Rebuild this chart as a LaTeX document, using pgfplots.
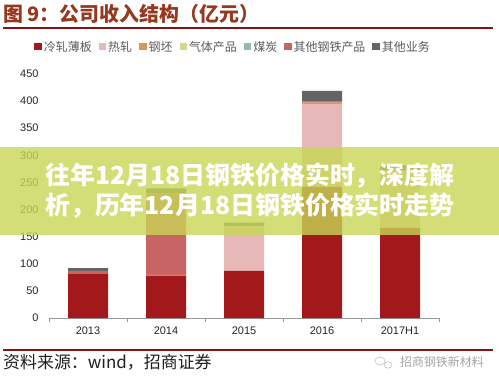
\documentclass[border=0pt]{standalone}
\usepackage{fontspec}
\setmainfont{Liberation Sans}
\newfontfamily\cjk{Noto Sans CJK SC}
\usepackage{pgfplots}
\pgfplotsset{compat=1.18}
\definecolor{c1}{RGB}{163,24,26}
\definecolor{c2}{RGB}{230,185,184}
\definecolor{c3}{RGB}{217,152,82}
\definecolor{c4}{RGB}{215,213,140}
\definecolor{c5}{RGB}{140,190,170}
\definecolor{c6}{RGB}{200,100,100}
\definecolor{c7}{RGB}{100,100,100}
\definecolor{titlec}{RGB}{150,55,30}
\definecolor{linec}{RGB}{135,20,20}
\definecolor{bannerc}{RGB}{200,214,85}
\definecolor{legtext}{RGB}{90,90,90}
\begin{document}
\begin{tikzpicture}[x=1bp,y=1bp]
\useasboundingbox (0,0) rectangle (499,383);
\fill[white] (0,0) rectangle (499,383);
\node[anchor=west, text=titlec, font=\cjk\bfseries\fontsize{20}{22}\selectfont, inner sep=0] at (3,369) {图 9：公司收入结构（亿元）};
\draw[line width=2bp, color=linec] (3,355) -- (493,355);
\begin{axis}[
  at={(49bp,65bp)}, anchor=south west,
  scale only axis, width=390bp, height=244bp,
  xmin=-0.5, xmax=4.5, ymin=0, ymax=450,
  ybar stacked, bar width=40bp,
  axis lines*=left,
  y axis line style={draw=none},
  x axis line style={draw=gray!80, line width=0.8bp},
  xtick={0,1,2,3,4},
  xticklabels={2013,2014,2015,2016,2017H1},
  minor xtick={-0.5,0.5,1.5,2.5,3.5,4.5},
  major tick length=0pt, minor tick length=4bp,
  tick align=outside,
  minor x tick style={draw=gray!80, line width=0.8bp},
  ytick={0,50,...,450},
  ytick style={draw=none},
  /pgf/number format/assume math mode=true,
  yticklabel style={font=\fontsize{11}{13}\selectfont, text=black!85, xshift=-7bp},
  xticklabel style={font=\fontsize{11}{13}\selectfont, text=black!85, yshift=-5bp},
  legend columns=7,
  legend style={at={(0.472,1.111)}, anchor=center, draw=none, fill=none,
    font=\cjk\fontsize{12}{14}\selectfont, text=legtext,
    /tikz/every even column/.append style={column sep=5bp}},
  legend image code/.code={\fill[#1] (0bp,-3.5bp) rectangle (7.5bp,3.5bp);},
]
\addplot[fill=c1, draw=none] coordinates {(0,81) (1,77.5) (2,87) (3,242) (4,166)};
\addplot[fill=c2, draw=none] coordinates {(0,0) (1,0) (2,83) (3,153) (4,106)};
\addplot[fill=c3, draw=none] coordinates {(0,0) (1,2) (2,0) (3,2) (4,0)};
\addplot[fill=c4, draw=none] coordinates {(0,0) (1,0) (2,0) (3,0) (4,0)};
\addplot[fill=c5, draw=none] coordinates {(0,0) (1,0) (2,0) (3,0) (4,0)};
\addplot[fill=c6, draw=none] coordinates {(0,6) (1,150.5) (2,0) (3,2) (4,0)};
\addplot[fill=c7, draw=none] coordinates {(0,5) (1,9) (2,6) (3,20) (4,10)};
\legend{冷轧薄板,热轧,钢坯,气体产品,煤炭,其他钢铁产品,其他业务}
\end{axis}
\fill[bannerc, fill opacity=0.8] (0,148) rectangle (499,236);
\node[anchor=west, text=white, font=\cjk\bfseries\fontsize{25}{27}\selectfont, inner sep=0] at (45,207.5) {往年12月18日钢铁价格实时，深度解};
\node[anchor=west, text=white, font=\cjk\bfseries\fontsize{25}{27}\selectfont, inner sep=0] at (45,177) {析，历年12月18日钢铁价格实时走势};
\draw[line width=2.5bp, color=linec] (3,33) -- (493,33);
\node[anchor=west, text=black!88, font=\cjk\fontsize{17}{19}\selectfont, inner sep=0] at (3,21) {资料来源：wind，招商证券};
\draw[gray!50, line width=0.6bp] (380,22) ellipse (5bp and 4bp);
\draw[gray!50, line width=0.6bp] (388,18) ellipse (4bp and 3.2bp);
\node[anchor=east, text=gray!70, font=\cjk\fontsize{12}{14}\selectfont, inner sep=0] at (484,21) {招商钢铁新材料};
\end{tikzpicture}
\end{document}
